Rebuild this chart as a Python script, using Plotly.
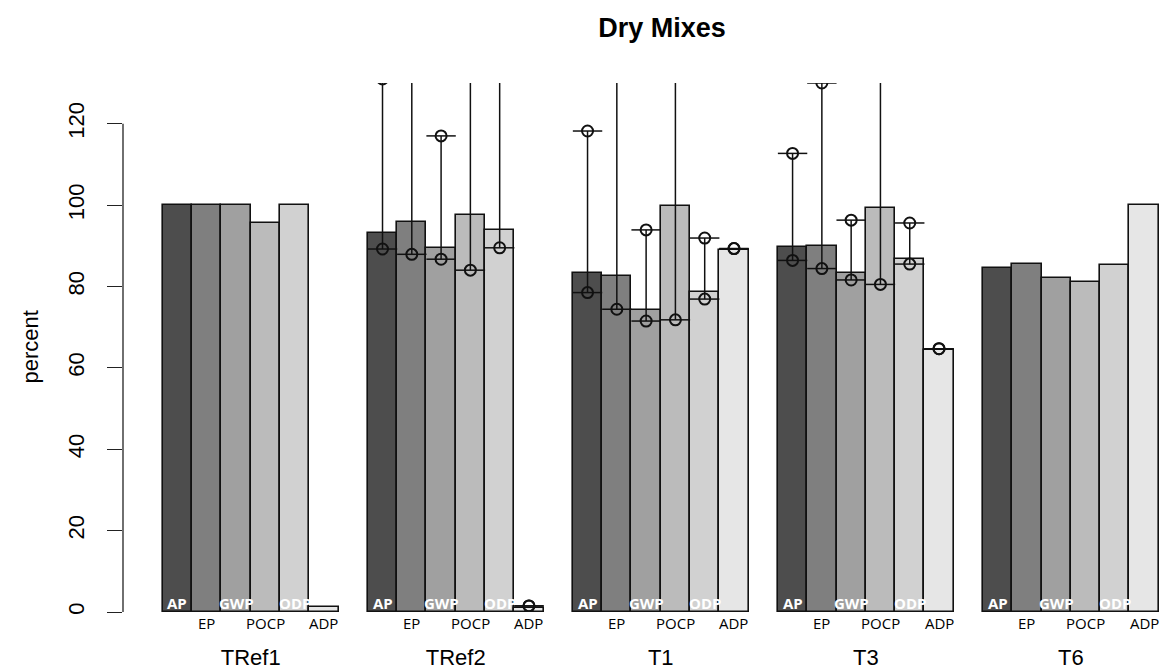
import plotly.graph_objects as go

# Impact categories and mixes
metrics = ["AP", "EP", "GWP", "POCP", "ODP", "ADP"]
groups = ["TRef1", "TRef2", "T1", "T3", "T6"]

# Bar heights (percent) per impact category, one value per mix
ap_vals = [100.0, 93.2, 83.2, 89.7, 84.5]
ep_vals = [100.0, 95.8, 82.5, 89.9, 85.5]
gwp_vals = [100.0, 89.5, 74.1, 83.3, 82.1]
pocp_vals = [95.6, 97.5, 99.8, 99.3, 81.2]
odp_vals = [100.0, 93.9, 78.7, 86.7, 85.2]
adp_vals = [1.2, 1.0, 89.0, 64.5, 100.0]

# Range limits (low / high) per category for the mixes that have them
tref2_low = [89.2, 87.9, 86.7, 84.0, 89.5, 1.5]
tref2_high = [131.0, 150.0, 117.0, 150.0, 150.0, 1.5]
t1_low = [78.5, 74.4, 71.5, 71.8, 76.9, 89.3]
t1_high = [118.2, 150.0, 93.9, 150.0, 91.9, 89.3]
t3_low = [86.4, 84.4, 81.6, 80.5, 85.5, 64.7]
t3_high = [112.7, 130.0, 96.3, 150.0, 95.6, 64.7]

y_ticks = [0, 20, 40, 60, 80, 100, 120]

values = [ap_vals, ep_vals, gwp_vals, pocp_vals, odp_vals, adp_vals]
ranges = {"TRef2": (tref2_low, tref2_high),
          "T1": (t1_low, t1_high),
          "T3": (t3_low, t3_high)}

fills = ["#4D4D4D", "#7F7F7F", "#A0A0A0", "#BBBBBB", "#D1D1D1", "#E6E6E6"]

n_m = len(metrics)
group_step = n_m + 1

# plot area geometry in pixels
W, H = 1164, 671
L, R, T, B = 123, 0, 83, 59
unit_px = 29.29


def bar_center(g, i):
    return 1 + group_step * g + i + 0.5


fig = go.Figure()

for i, (name, vals) in enumerate(zip(metrics, values)):
    fig.add_trace(go.Bar(
        x=[bar_center(g, i) for g in range(len(groups))],
        y=vals,
        width=1.0,
        name=name,
        marker=dict(color=fills[i], line=dict(color="#111111", width=1.6)),
        showlegend=False,
        hoverinfo="skip",
    ))

# Whiskers with end markers
wx, wy, px, py = [], [], [], []
for g, grp in enumerate(groups):
    if grp not in ranges:
        continue
    lows, highs = ranges[grp]
    for i in range(n_m):
        c = bar_center(g, i)
        wx += [c, c, None]
        wy += [lows[i], highs[i], None]
        px += [c, c]
        py += [lows[i], highs[i]]

fig.add_trace(go.Scatter(x=wx, y=wy, mode="lines",
                         line=dict(color="#111111", width=1.5),
                         showlegend=False, hoverinfo="skip"))
fig.add_trace(go.Scatter(x=px, y=py, mode="markers",
                         marker=dict(symbol="line-ew-open", size=21, color="#111111",
                                     line=dict(color="#111111", width=1.5)),
                         showlegend=False, hoverinfo="skip"))
fig.add_trace(go.Scatter(x=px, y=py, mode="markers",
                         marker=dict(symbol="circle-open", size=11, color="#111111",
                                     line=dict(color="#111111", width=2)),
                         showlegend=False, hoverinfo="skip"))

# Category labels: odd ones inside the bar foot, even ones under the axis
annotations = []
for g in range(len(groups)):
    for i, m in enumerate(metrics):
        inside = (i % 2 == 0)
        annotations.append(dict(
            x=bar_center(g, i), y=0, xref="x", yref="y",
            text=m, showarrow=False,
            xanchor="center", yanchor="middle",
            yshift=9 if inside else -11,
            font=dict(family="Open Sans", size=15,
                      color="white" if inside else "black",
                      weight=700 if inside else 400),
        ))

annotations.append(dict(
    x=(30 - L) / (W - L - R), y=0.5, xref="paper", yref="paper",
    text="percent", showarrow=False,
    textangle=-90, xanchor="center", yanchor="middle",
    font=dict(family="Liberation Sans", size=22, color="black"),
))

fig.add_shape(type="line", xref="paper", yref="y", x0=0, x1=0,
              y0=y_ticks[0], y1=y_ticks[-1],
              line=dict(color="#222222", width=1.3))

fig.update_layout(
    width=W, height=H, autosize=False,
    margin=dict(l=L, r=R, t=T, b=B),
    plot_bgcolor="white", paper_bgcolor="white",
    barmode="overlay", bargap=0,
    annotations=annotations,
    title=dict(text="<b>Dry Mixes</b>", x=662 / W, xref="container",
               xanchor="center", y=1 - 28 / H, yref="container", yanchor="middle",
               font=dict(family="Liberation Sans", size=27, color="black")),
    xaxis=dict(range=[-0.36, -0.36 + (W - L - R) / unit_px],
               tickvals=[1 + group_step * g + n_m / 2 for g in range(len(groups))],
               ticktext=groups, ticks="", showgrid=False, zeroline=False,
               showline=False, ticklabelstandoff=30,
               tickfont=dict(family="Liberation Sans", size=22, color="black")),
    yaxis=dict(range=[0, 130], tickvals=y_ticks, ticks="outside", ticklen=15,
               tickwidth=1.3, tickcolor="#222222", tickangle=-90,
               showgrid=False, zeroline=False, showline=False,
               ticklabelstandoff=14,
               tickfont=dict(family="Liberation Sans", size=22, color="black")),
)

fig.write_html("out.html")
